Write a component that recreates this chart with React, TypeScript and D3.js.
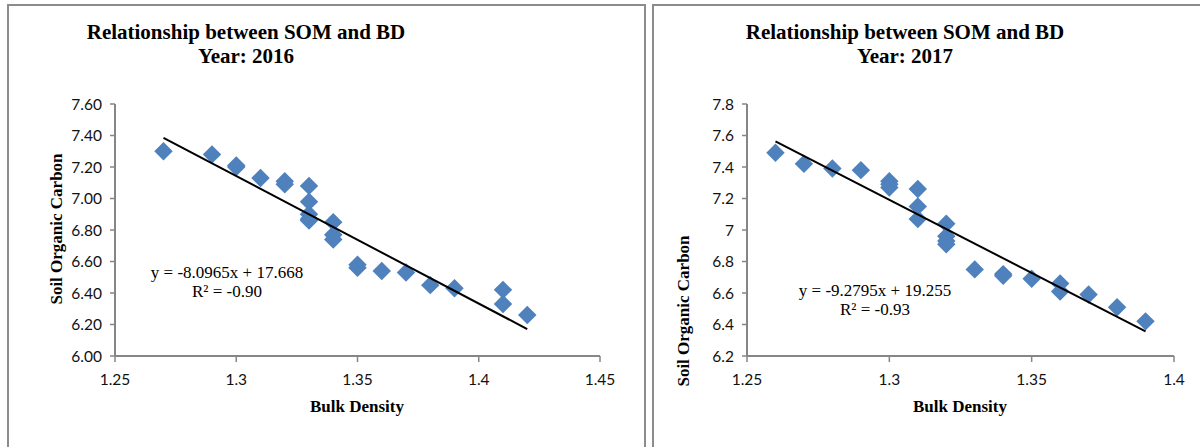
import { useEffect, useRef } from 'react';
import * as d3 from 'd3';

// 2016 readings
const bd2016 = [1.27, 1.29, 1.30, 1.30, 1.31, 1.32, 1.32, 1.33, 1.33, 1.33, 1.33, 1.33,
  1.34, 1.34, 1.34, 1.35, 1.35, 1.36, 1.37, 1.38, 1.39, 1.41, 1.41, 1.42];
const soc2016 = [7.30, 7.28, 7.21, 7.20, 7.13, 7.11, 7.09, 7.08, 6.98, 6.90, 6.87, 6.86,
  6.85, 6.77, 6.74, 6.58, 6.56, 6.54, 6.53, 6.45, 6.43, 6.42, 6.33, 6.26];

// 2017 readings
const bd2017 = [1.26, 1.27, 1.28, 1.29, 1.30, 1.30, 1.30, 1.31, 1.31, 1.31, 1.32, 1.32,
  1.32, 1.32, 1.33, 1.34, 1.34, 1.35, 1.36, 1.36, 1.37, 1.38, 1.39];
const soc2017 = [7.49, 7.42, 7.39, 7.38, 7.31, 7.29, 7.27, 7.26, 7.15, 7.07, 7.04, 6.96,
  6.93, 6.91, 6.75, 6.72, 6.71, 6.69, 6.66, 6.61, 6.59, 6.51, 6.42];

const xTicks2016 = [1.25, 1.3, 1.35, 1.4, 1.45];
const xTickLabels2016 = ['1.25', '1.3', '1.35', '1.4', '1.45'];
const yTicks2016 = [6.0, 6.2, 6.4, 6.6, 6.8, 7.0, 7.2, 7.4, 7.6];
const yTickLabels2016 = ['6.00', '6.20', '6.40', '6.60', '6.80', '7.00', '7.20', '7.40', '7.60'];

const xTicks2017 = [1.25, 1.3, 1.35, 1.4];
const xTickLabels2017 = ['1.25', '1.3', '1.35', '1.4'];
const yTicks2017 = [6.2, 6.4, 6.6, 6.8, 7.0, 7.2, 7.4, 7.6, 7.8];
const yTickLabels2017 = ['6.2', '6.4', '6.6', '6.8', '7', '7.2', '7.4', '7.6', '7.8'];

// trendline: slope, intercept, x range
const trend2016 = [-8.0965, 17.668, 1.27, 1.42];
const trend2017 = [-9.2795, 19.255, 1.26, 1.39];

const axisColor = '#868686';
const markerColor = '#4f81bd';
const serif = '"Liberation Serif", "Times New Roman", serif';
const sans = 'Lato, "Open Sans", sans-serif';

function drawPanel(svg, p) {
  const g = svg.append('g');

  g.append('rect')
    .attr('x', p.frame[0]).attr('y', p.frame[1])
    .attr('width', p.frame[2]).attr('height', p.frame[3])
    .attr('fill', '#fff').attr('stroke', '#8c8c8c').attr('stroke-width', 2);

  const x = d3.scaleLinear().domain(p.xDomain).range(p.xRange);
  const y = d3.scaleLinear().domain(p.yDomain).range(p.yRange);

  // axes lines
  g.append('line')
    .attr('x1', x(p.xDomain[0])).attr('x2', x(p.xDomain[1]))
    .attr('y1', y(p.yDomain[0])).attr('y2', y(p.yDomain[0]))
    .attr('stroke', axisColor).attr('stroke-width', 2);
  g.append('line')
    .attr('x1', x(p.xDomain[0])).attr('x2', x(p.xDomain[0]))
    .attr('y1', y(p.yDomain[0])).attr('y2', y(p.yDomain[1]))
    .attr('stroke', axisColor).attr('stroke-width', 2);

  // y ticks
  g.selectAll('.ytick').data(p.yTicks).enter().append('line')
    .attr('x1', x(p.xDomain[0]) - 5).attr('x2', x(p.xDomain[0]))
    .attr('y1', d => y(d)).attr('y2', d => y(d))
    .attr('stroke', axisColor).attr('stroke-width', 1.5);
  g.selectAll('.ylab').data(p.yTicks).enter().append('text')
    .attr('x', x(p.xDomain[0]) - 13)
    .attr('y', d => y(d) + 5.5)
    .attr('text-anchor', 'end')
    .style('font-family', sans).style('font-size', '15.5px').attr('fill', '#111')
    .text((d, i) => p.yTickLabels[i]);

  // x ticks
  g.selectAll('.xtick').data(p.xTicks).enter().append('line')
    .attr('x1', d => x(d)).attr('x2', d => x(d))
    .attr('y1', y(p.yDomain[0])).attr('y2', y(p.yDomain[0]) + 6)
    .attr('stroke', axisColor).attr('stroke-width', 1.5);
  g.selectAll('.xlab').data(p.xTicks).enter().append('text')
    .attr('x', d => x(d))
    .attr('y', y(p.yDomain[0]) + 29)
    .attr('text-anchor', 'middle')
    .style('font-family', sans).style('font-size', '15.5px').attr('fill', '#111')
    .text((d, i) => p.xTickLabels[i]);

  // points
  const diamond = d3.symbol().type(d3.symbolSquare).size(170);
  g.selectAll('.pt').data(p.xs).enter().append('path')
    .attr('d', diamond)
    .attr('transform', (d, i) => 'translate(' + x(d) + ',' + y(p.ys[i]) + ') rotate(45)')
    .attr('fill', markerColor);

  // trendline
  const [m, b, x0, x1] = p.trend;
  g.append('line')
    .attr('x1', x(x0)).attr('y1', y(m * x0 + b))
    .attr('x2', x(x1)).attr('y2', y(m * x1 + b))
    .attr('stroke', '#000').attr('stroke-width', 2);

  // equation
  g.append('text')
    .attr('x', p.eqPos[0]).attr('y', p.eqPos[1])
    .attr('text-anchor', 'middle')
    .style('font-family', serif).style('font-size', '17px')
    .text(p.eqText[0]);
  g.append('text')
    .attr('x', p.eqPos[0]).attr('y', p.eqPos[1] + 19)
    .attr('text-anchor', 'middle')
    .style('font-family', serif).style('font-size', '17px')
    .text(p.eqText[1]);

  // titles
  g.append('text')
    .attr('x', p.titleX).attr('y', 39)
    .attr('text-anchor', 'middle')
    .style('font-family', serif).style('font-size', '21px').style('font-weight', 'bold')
    .text('Relationship between SOM and BD');
  g.append('text')
    .attr('x', p.titleX).attr('y', 63)
    .attr('text-anchor', 'middle')
    .style('font-family', serif).style('font-size', '21px').style('font-weight', 'bold')
    .text(p.year);

  g.append('text')
    .attr('x', p.xTitleX).attr('y', y(p.yDomain[0]) + 56)
    .attr('text-anchor', 'middle')
    .style('font-family', serif).style('font-size', '17px').style('font-weight', 'bold')
    .text('Bulk Density');

  g.append('text')
    .attr('transform', 'translate(' + p.yTitlePos[0] + ',' + p.yTitlePos[1] + ') rotate(-90)')
    .attr('text-anchor', 'middle')
    .style('font-family', serif).style('font-size', '17px').style('font-weight', 'bold')
    .text('Soil Organic Carbon');
}

export default function App() {
  const ref = useRef(null);

  useEffect(() => {
    const svg = d3.select(ref.current);
    svg.selectAll('*').remove();

    drawPanel(svg, {
      frame: [8, 5, 637, 460],
      xDomain: [1.25, 1.45], xRange: [115, 600],
      yDomain: [6.0, 7.6], yRange: [356, 104],
      xTicks: xTicks2016, xTickLabels: xTickLabels2016,
      yTicks: yTicks2016, yTickLabels: yTickLabels2016,
      xs: bd2016, ys: soc2016, trend: trend2016,
      eqPos: [227, 278], eqText: ['y = -8.0965x + 17.668', 'R² = -0.90'],
      titleX: 246, year: 'Year: 2016',
      xTitleX: 357, yTitlePos: [62, 229]
    });

    drawPanel(svg, {
      frame: [653, 5, 560, 460],
      xDomain: [1.25, 1.4], xRange: [747, 1174],
      yDomain: [6.2, 7.8], yRange: [356, 104],
      xTicks: xTicks2017, xTickLabels: xTickLabels2017,
      yTicks: yTicks2017, yTickLabels: yTickLabels2017,
      xs: bd2017, ys: soc2017, trend: trend2017,
      eqPos: [875, 296], eqText: ['y = -9.2795x + 19.255', 'R² = -0.93'],
      titleX: 905, year: 'Year: 2017',
      xTitleX: 960, yTitlePos: [689, 311]
    });
  }, []);

  return (
    <svg ref={ref} width={1200} height={447}
      style={{ position: 'absolute', left: 0, top: 0, background: '#fff' }} />
  );
}
